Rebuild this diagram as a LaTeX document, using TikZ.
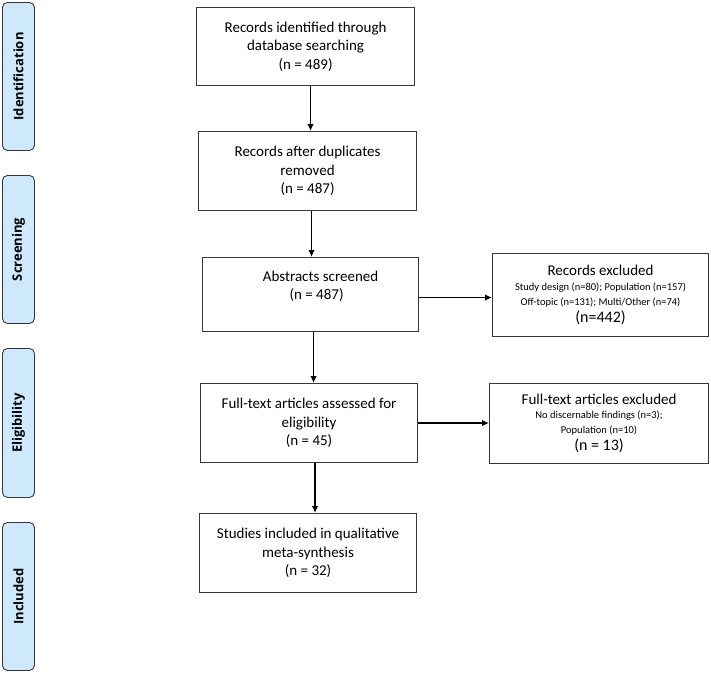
\documentclass[tikz,border=0pt]{standalone}
\usepackage{fontspec}
\setmainfont{Carlito}
\newfontfamily\phasefont{Open Sans}
\usetikzlibrary{arrows.meta, positioning, calc}

\definecolor{phasefill}{RGB}{205,233,251}
\definecolor{lineclr}{RGB}{55,55,55}

\newcommand{\notefont}{\fontsize{10.5}{14.5}\selectfont}
\newcommand{\countfont}{\fontsize{16}{18}\selectfont}
\newcommand{\phaselabel}[1]{\rotatebox{90}{\phasefont\bfseries\fontsize{13}{15}\selectfont #1}}

\begin{document}
\begin{tikzpicture}[x=1pt, y=-1pt,
  phase/.style = {draw=lineclr, fill=phasefill, rounded corners=5pt, line width=0.9pt,
                  minimum width=32pt, anchor=north west, inner sep=0pt},
  block/.style = {draw=lineclr, line width=1.1pt, anchor=north west, align=center,
                  inner sep=0pt, font=\fontsize{15}{18.5}\selectfont},
  arrow/.style = {line width=1.2pt, draw=black, -{Latex[length=7pt, width=6.5pt]}}
]
  \useasboundingbox (0,0) rectangle (711,672);

  % Phase labels on the left
  \node[phase, minimum height=148pt] (identification) at (2,2) {\phaselabel{Identification}};
  \node[phase, minimum height=148pt] (screening) at (2,175) {\phaselabel{Screening}};
  \node[phase, minimum height=149pt] (eligibility) at (2,348) {\phaselabel{Eligibility}};
  \node[phase, minimum height=148pt] (included) at (2,522) {\phaselabel{Included}};

  % Main column
  \node[block, minimum width=218pt, minimum height=78pt] (identified) at (196,7)
    {Records identified through\\database searching\\(n = 489)};
  \node[block, minimum width=218pt, minimum height=79pt] (duplicates) at (198,131)
    {Records after duplicates\\removed\\(n = 487)};
  \node[block, minimum width=216pt, minimum height=74pt] (abstracts) at (202,257)
    {\hspace*{20pt}Abstracts screened\\\hspace*{12pt}(n = 487)\\\mbox{}};
  \node[block, minimum width=217pt, minimum height=79pt] (fulltext) at (200,383)
    {Full-text articles assessed for\\eligibility\\(n = 45)};
  \node[block, minimum width=217pt, minimum height=79pt] (studies) at (199,513)
    {Studies included in qualitative\\meta-synthesis\\(n = 32)};

  % Exclusion boxes
  \node[block, minimum width=216pt, minimum height=83pt] (recexcl) at (492,253)
    {Records excluded\\[-3pt]
     {\notefont Study design (n=80); Population (n=157)}\\[-4pt]
     {\notefont Off-topic (n=131); Multi/Other (n=74)}\\[-1pt]
     {\countfont (n=442)}};
  \node[block, minimum width=219pt, minimum height=80pt] (ftexcl) at (489,383)
    {Full-text articles excluded\\[-4pt]
     {\notefont No discernable findings (n=3);}\\[-4pt]
     {\notefont Population (n=10)}\\[-1pt]
     {\countfont (n = 13)}};

  % Flow arrows
  \draw[arrow] ([xshift=5pt]identified.south) -- ([xshift=5pt]identified.south |- duplicates.north);
  \draw[arrow] ([xshift=4pt]duplicates.south) -- ([xshift=4pt]duplicates.south |- abstracts.north);
  \draw[arrow] ([xshift=3pt]abstracts.south) -- ([xshift=3pt]abstracts.south |- fulltext.north);
  \draw[arrow] ([xshift=6pt]fulltext.south) -- ([xshift=6pt]fulltext.south |- studies.north);

  % Exclusion arrows
  \draw[arrow] ([yshift=-3pt]abstracts.east) -- ([yshift=-3pt]abstracts.east -| recexcl.west);
  \draw[arrow] (fulltext.east) -- (fulltext.east -| ftexcl.west);

\end{tikzpicture}
\end{document}
